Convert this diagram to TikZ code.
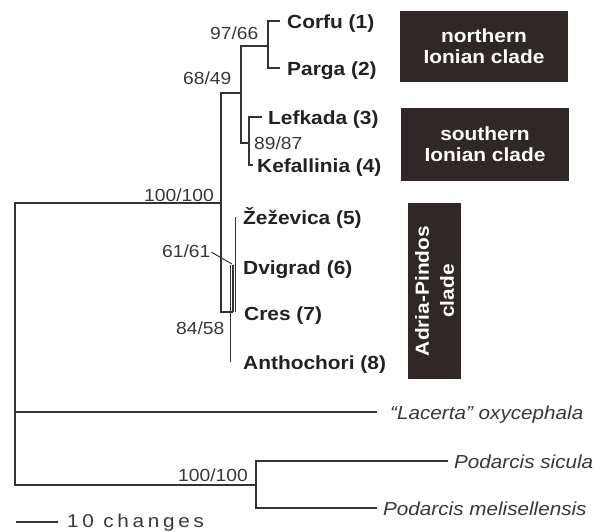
\documentclass[tikz,border=0pt]{standalone}
\usepackage{fontspec}
\setmainfont{Liberation Sans}[FakeStretch=1.1]
\newfontfamily\barfont{Liberation Sans}[FakeStretch=1.12,LetterSpace=20]
\definecolor{linec}{HTML}{333333}
\definecolor{textc}{HTML}{222222}
\definecolor{supc}{HTML}{383838}
\definecolor{boxc}{HTML}{2F2826}
\begin{document}
\begin{tikzpicture}[x=1pt,y=-1pt,
  br/.style={draw=linec, line width=1.9pt, line join=miter},
  thinbr/.style={draw=linec, line width=1.6pt},
  taxon/.style={anchor=base west, inner sep=0pt, text=textc, font=\fontsize{19}{21}\selectfont\bfseries},
  outg/.style={anchor=base west, inner sep=0pt, text=supc, font=\fontsize{18.8}{21}\selectfont\itshape},
  supp/.style={inner sep=0pt, text=supc, font=\fontsize{17.5}{20}\selectfont},
  cladebox/.style={fill=boxc, text=white, inner sep=0pt, align=center, font=\fontsize{19}{21}\selectfont\bfseries}]
\useasboundingbox[fill=white] (0,0) rectangle (611,531);

% coordinates
\coordinate (rT) at (15,203);
\coordinate (rL) at (15,412);
\coordinate (rB) at (15,485);
\coordinate (inS) at (221,203);
\coordinate (inT) at (221,93);
\coordinate (inB) at (221,312);
\coordinate (n68) at (241,93);
\coordinate (n68T) at (241,46);
\coordinate (n68B) at (241,143);
\coordinate (n97) at (268,46);
\coordinate (n97T) at (268,21);
\coordinate (n97B) at (268,68);
\coordinate (tCorfu) at (280,21);
\coordinate (tParga) at (280,68);
\coordinate (n89) at (249,143);
\coordinate (n89T) at (249,117);
\coordinate (n89B) at (249,165);
\coordinate (tLef) at (262,117);
\coordinate (tKef) at (253,165);
\coordinate (apS) at (233,312);
\coordinate (apAT) at (235.5,217);
\coordinate (apAB) at (235.5,312);
\coordinate (apBT) at (230.5,265);
\coordinate (apBB) at (230.5,362);
\coordinate (apCT) at (233,265);
\coordinate (apCB) at (233,312);
\coordinate (tLac) at (377,412);
\coordinate (pS) at (256,485);
\coordinate (pT) at (256,461);
\coordinate (pB) at (256,508);
\coordinate (tSic) at (448,461);
\coordinate (tMel) at (377,508);
\coordinate (sbL) at (16,522);
\coordinate (sbR) at (58,522);
\coordinate (p61) at (232,264);

% branches
\draw[br] (inS) -- (rT) -- (rB) -- (pS);
\draw[br] (rL) -- (tLac);
\draw[br] (tSic) -- (pT) -- (pB) -- (tMel);
\draw[br] (n68) -- (inT) -- (inB) -- (apS);
\draw[br] (n97) -- (n68T) -- (n68B) -- (n89);
\draw[br] (tCorfu) -- (n97T) -- (n97B) -- (tParga);
\draw[br] (tLef) -- (n89T) -- (n89B) -- (tKef);
\draw[thinbr] (apAT) -- (apAB);
\draw[thinbr] (apBT) -- (apBB);
\draw[thinbr] (apCT) -- (apCB);
\draw[br] (sbL) -- (sbR);

% taxa
\node[taxon] (corfu) at (287,28) {Corfu (1)};
\node[taxon] (parga) at (287,75) {Parga (2)};
\node[taxon] (lef) at (268,124) {Lefkada (3)};
\node[taxon] (kef) at (257,172) {Kefallinia (4)};
\node[taxon] (zez) at (243,224) {Žeževica (5)};
\node[taxon] (dvi) at (243,274) {Dvigrad (6)};
\node[taxon] (cres) at (244,320) {Cres (7)};
\node[taxon] (anth) at (243,369) {Anthochori (8)};
\node[outg] (lac) at (390,419) {“Lacerta” oxycephala};
\node[outg] (sic) at (454,468) {Podarcis sicula};
\node[outg] (mel) at (383,515) {Podarcis melisellensis};

% support values
\node[supp, anchor=base west] (s97) at (210,39.5) {97/66};
\node[supp, anchor=base west] (s68) at (183,84.5) {68/49};
\node[supp, anchor=base west] (s89) at (254,149.5) {89/87};
\node[supp, anchor=base east] (s100) at (214,201) {100/100};
\node[supp, anchor=base west] (s61) at (162,257.5) {61/61};
\node[supp, anchor=base west] (s84) at (176,334.5) {84/58};
\node[supp, anchor=base east] (s100b) at (248,481) {100/100};
\draw[linec, line width=1pt] (s61.east) ++(1,1) -- (p61);

% scale bar label
\node[anchor=west, inner sep=0pt, text=supc, font=\fontsize{18.5}{20}\barfont] (sbt) at (67,523) {10 changes};

% clade boxes
\node[cladebox, minimum width=168, minimum height=71] (bnorth) at (484,46.5) {northern\\Ionian clade};
\node[cladebox, minimum width=168, minimum height=73] (bsouth) at (485,144.5) {southern\\Ionian clade};
\node[cladebox, rotate=90, minimum width=176, minimum height=53, font=\fontsize{19}{25}\selectfont\bfseries] (badria) at (434.5,291) {Adria-Pindos\\clade};
\end{tikzpicture}
\end{document}
